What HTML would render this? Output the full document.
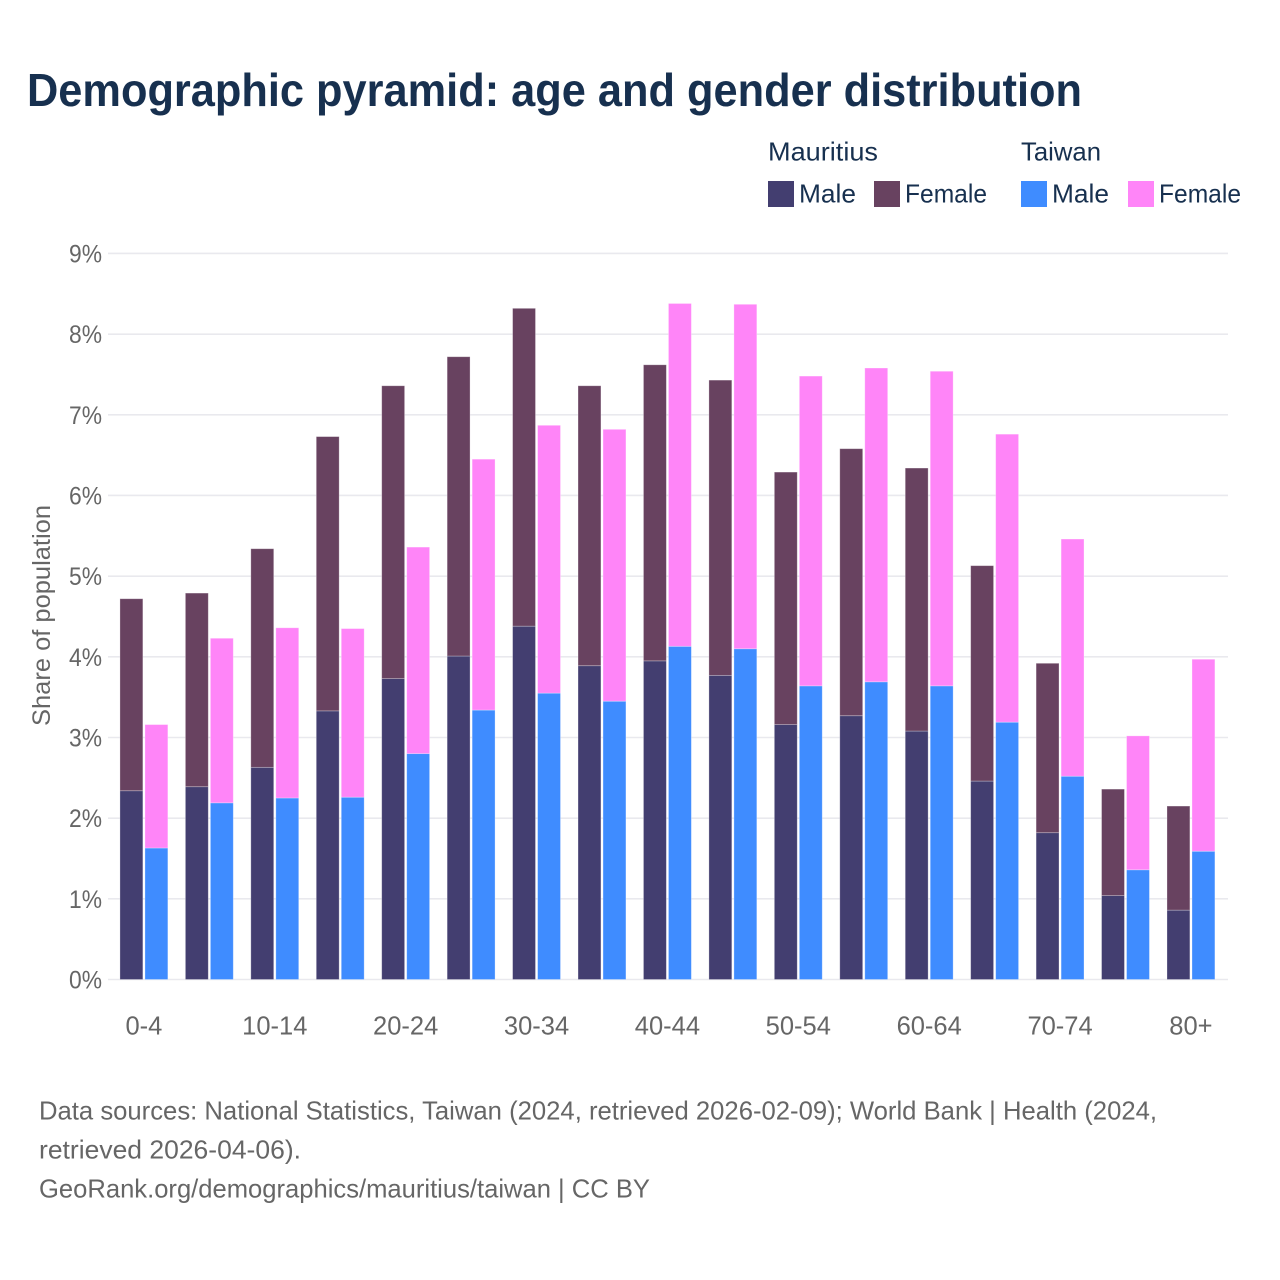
<!DOCTYPE html>
<html lang="en">
<head>
<meta charset="utf-8">
<title>Demographic pyramid: age and gender distribution</title>
<style>
html,body{margin:0;padding:0;background:#fff;width:1280px;height:1280px;overflow:hidden}
svg{display:block;font-family:"Liberation Sans",sans-serif}
</style>
</head>
<body>
<svg id="chart" xmlns="http://www.w3.org/2000/svg" width="1280" height="1280" viewBox="0 0 1280 1280">
  <rect width="1280" height="1280" fill="#fff"/>
  <text x="27" y="106" font-size="46" font-weight="700" fill="#17304f" textLength="1055" lengthAdjust="spacingAndGlyphs">Demographic pyramid: age and gender distribution</text>

  <g font-size="26" fill="#17304f">
    <text x="768" y="160.5" textLength="110" lengthAdjust="spacingAndGlyphs">Mauritius</text>
    <text x="1021" y="160.5" textLength="80" lengthAdjust="spacingAndGlyphs">Taiwan</text>
    <rect x="768" y="181" width="26" height="26" fill="#433e70"/>
    <text x="799" y="202.5" textLength="57" lengthAdjust="spacingAndGlyphs">Male</text>
    <rect x="874" y="181" width="26" height="26" fill="#684260"/>
    <text x="905" y="202.5" textLength="82" lengthAdjust="spacingAndGlyphs">Female</text>
    <rect x="1021" y="181" width="26" height="26" fill="#3f8cff"/>
    <text x="1052" y="202.5" textLength="57" lengthAdjust="spacingAndGlyphs">Male</text>
    <rect x="1128" y="181" width="26" height="26" fill="#ff85f8"/>
    <text x="1159" y="202.5" textLength="82" lengthAdjust="spacingAndGlyphs">Female</text>
  </g>

  <g id="grid"></g>
  <g id="yticks" font-size="25" fill="#666"></g>
  <g id="bars"></g>
  <g id="xticks" font-size="25.5" fill="#666"></g>

  <text transform="translate(50 726) rotate(-90)" x="0" y="0" font-size="25" fill="#666" textLength="221" lengthAdjust="spacingAndGlyphs">Share of population</text>

  <g font-size="26" fill="#666">
    <text x="39" y="1119.5" textLength="1118" lengthAdjust="spacingAndGlyphs">Data sources: National Statistics, Taiwan (2024, retrieved 2026-02-09); World Bank | Health (2024,</text>
    <text x="39" y="1158.5" textLength="262" lengthAdjust="spacingAndGlyphs">retrieved 2026-04-06).</text>
    <text x="39" y="1197.5" textLength="611" lengthAdjust="spacingAndGlyphs">GeoRank.org/demographics/mauritius/taiwan | CC BY</text>
  </g>
</svg>
<script>
const categories = ["0-4","5-9","10-14","15-19","20-24","25-29","30-34","35-39","40-44","45-49","50-54","55-59","60-64","65-69","70-74","75-79","80+"];
const mauritiusMale = [2.34,2.39,2.63,3.33,3.73,4.01,4.38,3.89,3.95,3.77,3.16,3.27,3.08,2.46,1.82,1.04,0.86];
const mauritiusFemale = [2.38,2.40,2.71,3.40,3.63,3.71,3.94,3.47,3.67,3.66,3.13,3.31,3.26,2.67,2.10,1.32,1.29];
const taiwanMale = [1.63,2.19,2.25,2.26,2.80,3.34,3.55,3.45,4.13,4.10,3.64,3.69,3.64,3.19,2.52,1.36,1.59];
const taiwanFemale = [1.53,2.04,2.11,2.09,2.56,3.11,3.32,3.37,4.25,4.27,3.84,3.89,3.90,3.57,2.94,1.66,2.38];
const yTickValues = [0,1,2,3,4,5,6,7,8,9];
const xTickEvery = 2;

const NS = "http://www.w3.org/2000/svg";
const plotLeft = 108, plotRight = 1228;
const y0 = 979.5, pxPerUnit = 80.67;
const firstCenter = 143.9, bandStep = 65.44;
const barW = 22.9, barGap = 2.1;

function yScale(v){ return y0 - v * pxPerUnit; }
function xCenter(i){ return firstCenter + i * bandStep; }

function svgEl(tag, attrs){
  const e = document.createElementNS(NS, tag);
  for (const k in attrs) e.setAttribute(k, attrs[k]);
  return e;
}

const gridG = document.getElementById("grid");
const yG = document.getElementById("yticks");
yTickValues.forEach(function(v){
  const line = svgEl("line", {x1: plotLeft, x2: plotRight, y1: yScale(v), y2: yScale(v), stroke: "#e9e9ee", "stroke-width": 1.6});
  
  
  gridG.appendChild(line);
  const t = svgEl("text", {x: 102, y: yScale(v) + 9, "text-anchor": "end", textLength: 33, lengthAdjust: "spacingAndGlyphs"});
  
  
  t.textContent = v + "%";
  yG.appendChild(t);
});

const barsG = document.getElementById("bars");
function addBar(x, base, value, fill, name){
  const top = yScale(base + value);
  const r = svgEl("rect", {x: x, y: top, width: barW, height: yScale(base) - top, fill: fill, stroke: "#fff", "stroke-opacity": 0.35, "stroke-width": 0.8});
  
  
  barsG.appendChild(r);
}

const xG = document.getElementById("xticks");
categories.forEach(function(c, i){
  const cx = xCenter(i);
  const lx = cx - barGap / 2 - barW;
  const rx = cx + barGap / 2;
  addBar(lx, 0, mauritiusMale[i], "#433e70", "bar-mauritius-male");
  addBar(lx, mauritiusMale[i], mauritiusFemale[i], "#684260", "bar-mauritius-female");
  addBar(rx, 0, taiwanMale[i], "#3f8cff", "bar-taiwan-male");
  addBar(rx, taiwanMale[i], taiwanFemale[i], "#ff85f8", "bar-taiwan-female");
  if (i % xTickEvery === 0) {
    const t = svgEl("text", {x: cx, y: 1034.5, "text-anchor": "middle"});
    
    
    t.textContent = c;
    xG.appendChild(t);
  }
});
</script>
</body>
</html>
